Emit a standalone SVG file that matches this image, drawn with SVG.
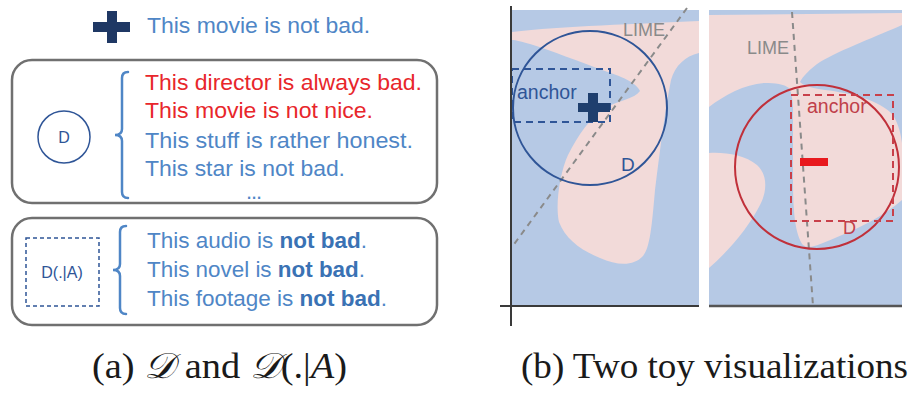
<svg xmlns="http://www.w3.org/2000/svg" width="914" height="394" viewBox="0 0 914 394">
<style>
.t{font-family:"Liberation Sans","Noto Sans",sans-serif;font-size:22px;fill:#4f86c6}
.r{fill:#e8262b}
.b{font-weight:bold;fill:#3a72b4}
.box{fill:none;stroke:#707070;stroke-width:2.5}
.brk{fill:none;stroke:#4f86c6;stroke-width:2.5;stroke-linecap:round}
.cap{font-family:"Liberation Serif","DejaVu Serif",serif;font-size:36px;fill:#1a1a1a}
.lbl{font-family:"Liberation Sans",sans-serif}
.blue{fill:#b6c9e5}
.pink{fill:#f2dad9}
.lime{fill:none;stroke:#8a8a8a;stroke-width:2;stroke-dasharray:6 5}
</style>
<rect width="914" height="394" fill="#ffffff"/>

<g id="example">
  <rect x="93" y="22" width="37" height="10" fill="#1f3864"/>
  <rect x="107" y="11" width="10" height="32" fill="#1f3864"/>
  <text class="t" x="147" y="33" textLength="223" lengthAdjust="spacingAndGlyphs">This movie is not bad.</text>
</g>

<g id="box-d">
  <rect class="box" x="12" y="60" width="425" height="143" rx="20"/>
  <circle cx="64" cy="137" r="26" fill="none" stroke="#2f5597" stroke-width="1.5"/>
  <text class="lbl" x="64" y="143" font-size="16" fill="#2f5597" text-anchor="middle">D</text>
  <path class="brk" d="M128,72 Q122,72 122,78 L122,129 Q122,135 115,135 Q122,135 122,141 L122,192 Q122,198 128,198"/>
  <text class="t r" x="145" y="90" textLength="277" lengthAdjust="spacingAndGlyphs">This director is always bad.</text>
  <text class="t r" x="145" y="118" textLength="228" lengthAdjust="spacingAndGlyphs">This movie is not nice.</text>
  <text class="t" x="145" y="148" textLength="268" lengthAdjust="spacingAndGlyphs">This stuff is rather honest.</text>
  <text class="t" x="145" y="176" textLength="200" lengthAdjust="spacingAndGlyphs">This star is not bad.</text>
  <text class="t" x="246" y="199" font-size="11" textLength="16" lengthAdjust="spacing">...</text>
</g>

<g id="box-da">
  <rect class="box" x="12" y="218" width="425" height="107" rx="20"/>
  <rect x="26" y="238" width="73" height="68" fill="none" stroke="#2f5597" stroke-width="1.5" stroke-dasharray="4 3"/>
  <text class="lbl" x="62" y="278" font-size="16" fill="#2f5597" text-anchor="middle">D(.|A)</text>
  <path class="brk" d="M126,226 Q120,226 120,232 L120,264 Q120,270 113,270 Q120,270 120,276 L120,308 Q120,314 126,314"/>
  <text class="t" x="147" y="248" textLength="220" lengthAdjust="spacingAndGlyphs">This audio is <tspan class="b">not bad</tspan>.</text>
  <text class="t" x="147" y="277" textLength="218" lengthAdjust="spacingAndGlyphs">This novel is <tspan class="b">not bad</tspan>.</text>
  <text class="t" x="147" y="306" textLength="240" lengthAdjust="spacingAndGlyphs">This footage is <tspan class="b">not bad</tspan>.</text>
</g>

<g id="caption-a">
  <text class="cap" x="92" y="378" textLength="255" lengthAdjust="spacingAndGlyphs">(a) <tspan font-style="italic">𝒟</tspan> and <tspan font-style="italic">𝒟</tspan>(.|<tspan font-style="italic">A</tspan>)</text>
</g>

<g id="panel-1">
  <rect class="blue" x="512" y="10" width="187" height="296"/>
  <path class="pink" d="M512,32 C560,26 640,24 699,21 L699,53 C685,56 675,66 671,80 C665,110 660,150 655,190 C652,225 650,248 643,256 C634,266 618,266 600,258 C580,250 565,238 559,222 C555,205 560,172 568,155 C578,135 590,118 605,108 C620,100 634,99 640,91 C636,82 620,76 605,71 C580,62 550,50 530,44 C522,42 516,40 512,40 Z"/>
  <line class="lime" x1="687" y1="8" x2="512" y2="247"/>
  <text class="lbl" x="623" y="36" font-size="18" fill="#8a8a8a">LIME</text>
  <circle cx="590" cy="108" r="77" fill="none" stroke="#2f5597" stroke-width="2"/>
  <rect x="512" y="69" width="98" height="53" fill="none" stroke="#2f5597" stroke-width="2" stroke-dasharray="7 5"/>
  <text class="lbl" x="517" y="99" font-size="19.5" fill="#2f5597">anchor</text>
  <rect x="578" y="103" width="32" height="9" fill="#1f3f6e"/>
  <rect x="588" y="93" width="10" height="29" fill="#1f3f6e"/>
  <text class="lbl" x="621" y="171" font-size="19" fill="#2f5597">D</text>
  <line x1="511" y1="6" x2="511" y2="326" stroke="#3a3a3a" stroke-width="2"/>
  <line x1="500" y1="306" x2="699" y2="306" stroke="#3a3a3a" stroke-width="2"/>
</g>

<g id="panel-2">
  <rect class="blue" x="709" y="10" width="193" height="296"/>
  <path class="pink" d="M709,15 L902,13 L902,25 C880,35 840,50 820,62 C810,69 803,76 800,82 C804,86 812,88 825,90 C850,93 880,100 893,115 C899,125 901,135 902,143 L902,200 C885,215 860,228 835,238 C820,244 810,250 803,245 C795,235 793,210 793,180 C793,150 793,120 793,105 C792,96 791,91 789,88 C784,84 775,83 765,83 C745,84 725,95 709,107 Z"/>
  <path class="pink" d="M709,153 C725,152 745,155 757,165 C768,175 767,192 760,205 C750,225 730,250 709,268 Z"/>
  <line class="lime" x1="792" y1="12" x2="813" y2="306"/>
  <text class="lbl" x="747" y="54" font-size="18" fill="#8a8a8a">LIME</text>
  <circle cx="817" cy="167" r="82" fill="none" stroke="#c0303a" stroke-width="2"/>
  <rect x="791" y="95" width="102" height="126" fill="none" stroke="#c8404a" stroke-width="2" stroke-dasharray="7 5"/>
  <text class="lbl" x="807" y="113" font-size="19.5" fill="#c0404a">anchor</text>
  <rect x="800" y="158" width="28" height="8" fill="#e8191e"/>
  <text class="lbl" x="843" y="234" font-size="18" fill="#c0404a">D</text>
  <line x1="709" y1="306" x2="902" y2="306" stroke="#555555" stroke-width="2.5"/>
</g>

<g id="caption-b">
  <text class="cap" x="521" y="378" textLength="387" lengthAdjust="spacingAndGlyphs">(b) Two toy visualizations</text>
</g>
</svg>
